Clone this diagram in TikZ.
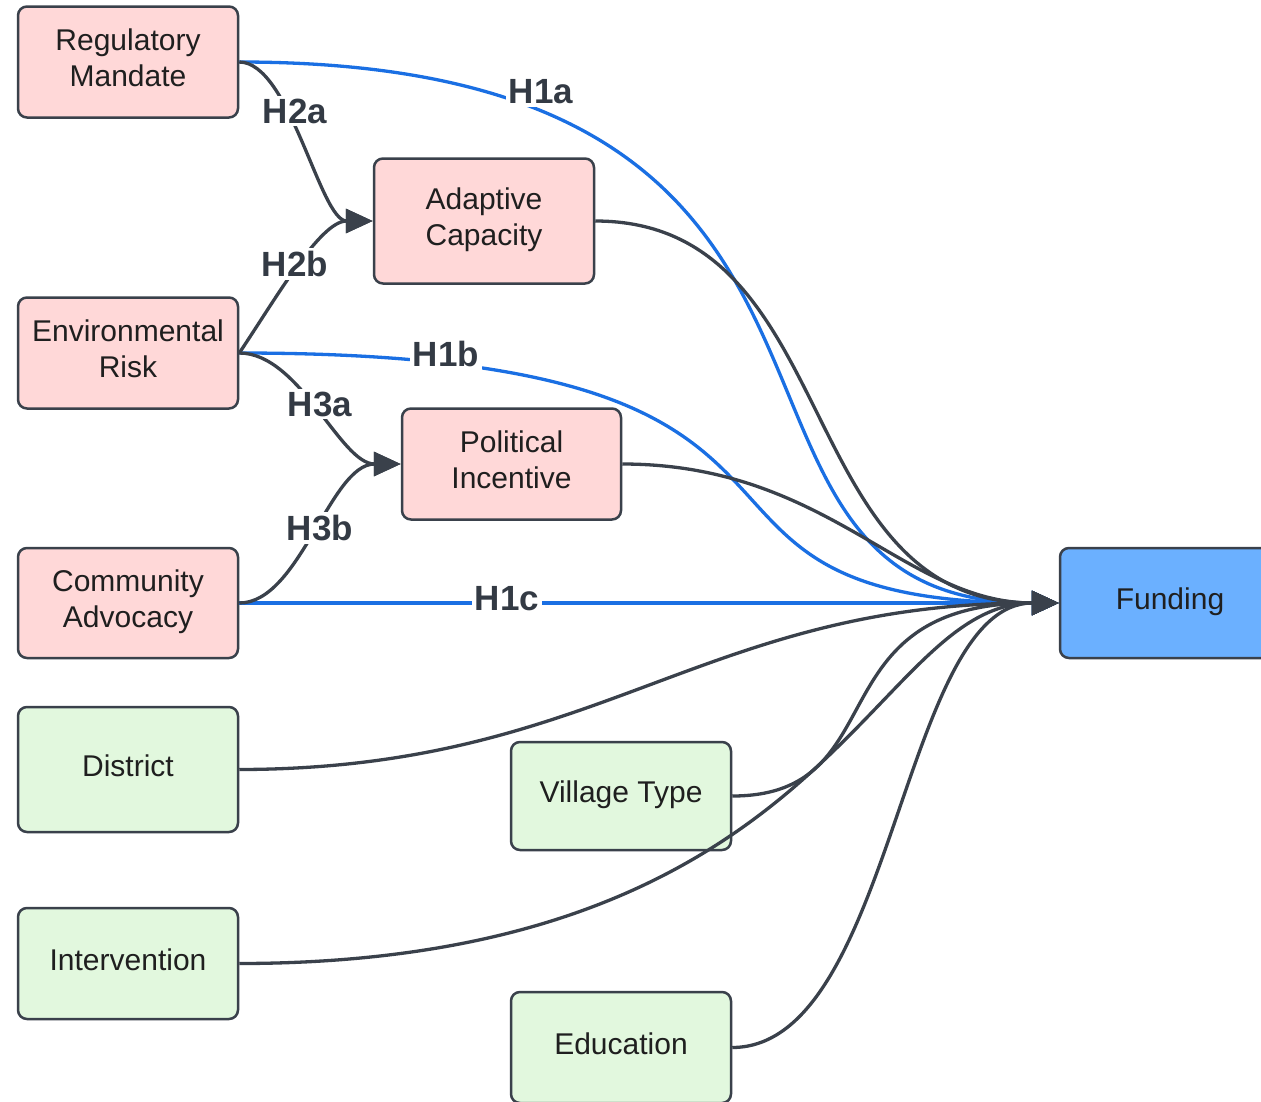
\documentclass[tikz,border=0pt]{standalone}
\usepackage{fontspec}
\setmainfont{Liberation Sans}
\usetikzlibrary{arrows.meta}
\definecolor{pinkfill}{HTML}{FFD8D8}
\definecolor{greenfill}{HTML}{E2F8DE}
\definecolor{bluefill}{HTML}{6BB0FF}
\definecolor{edgedark}{HTML}{3A414B}
\definecolor{edgeblue}{HTML}{1A6FE3}
\definecolor{labelgray}{HTML}{333A44}
\newcommand{\boxdepthfix}{\rule[-8pt]{0pt}{8pt}}
\begin{document}
\begin{tikzpicture}[x=1pt,y=-1pt,
  box/.style={draw=edgedark, line width=2.5pt, rounded corners=9pt, align=center,
    font=\fontsize{30}{36}\selectfont, text=black!88, inner sep=0pt, minimum width=220pt,
    execute at end node=\boxdepthfix},
  pinkbox/.style={box, fill=pinkfill},
  greenbox/.style={box, fill=greenfill},
  bluebox/.style={box, fill=bluefill},
  tipstyle/.style={-{Triangle[length=27pt,width=24pt]}},
  darkedge/.style={draw=edgedark, line width=3.3pt, tipstyle},
  blueedge/.style={draw=edgeblue, line width=3.3pt, tipstyle},
  lbl/.style={fill=white, text=labelgray, font=\fontsize{35}{40}\selectfont\bfseries, inner sep=3pt}
]
\useasboundingbox (0,0) rectangle (1261,1101);
\clip (0,0) rectangle (1261,1101);
\fill[white] (0,0) rectangle (1261,1101);

% nodes
\node[pinkbox, minimum height=111pt] (rm) at (128,62) {Regulatory\\Mandate};
\node[pinkbox, minimum height=125pt] (ac) at (484,221) {Adaptive\\Capacity};
\node[pinkbox, minimum height=111pt] (er) at (128,353) {Environmental\\Risk};
\node[pinkbox, minimum height=111pt, minimum width=219pt] (pi) at (511.5,464) {Political\\Incentive};
\node[pinkbox, minimum height=110pt] (ca) at (128,603) {Community\\Advocacy};
\node[bluebox, minimum height=110pt] (fu) at (1170,603) {Funding};
\node[greenbox, minimum height=125pt] (di) at (128,769.5) {District};
\node[greenbox, minimum height=108pt] (vt) at (621,796) {Village Type};
\node[greenbox, minimum height=111pt] (iv) at (128,963.5) {Intervention};
\node[greenbox, minimum height=111pt] (ed) at (621,1047.5) {Education};

% blue hypothesis edges
\draw[blueedge] (rm.east) .. controls (949,62) and (658,603) .. (fu.west);
\draw[blueedge] (er.east) .. controls (918,353) and (609,603) .. (fu.west);
\draw[blueedge] (ca.east) -- (fu.west);

% dark edges to Funding
\draw[darkedge] (ac.east) .. controls (846,221) and (789,603) .. (fu.west);
\draw[darkedge] (pi.east) .. controls (828,464) and (905,603) .. (fu.west);
\draw[darkedge] (di.east) .. controls (600,769) and (700,603) .. (fu.west);
\draw[darkedge] (vt.east) .. controls (898,796) and (812,603) .. (fu.west);
\draw[darkedge] (iv.east) .. controls (836,963) and (870,603) .. (fu.west);
\draw[darkedge] (ed.east) .. controls (894,1047) and (901,603) .. (fu.west);

% mediator edges
\draw[darkedge] (rm.east) .. controls (290,62) and (320,221) .. (ac.west);
\draw[darkedge] (er.east) .. controls (275,300) and (320,221) .. (ac.west);
\draw[darkedge] (er.east) .. controls (300,353) and (340,464) .. (pi.west);
\draw[darkedge] (ca.east) .. controls (300,603) and (330,464) .. (pi.west);

% labels
\node[lbl] (h1a) at (541,92) {H1a};
\node[lbl] (h2a) at (295,111) {H2a};
\node[lbl] (h2b) at (295,264) {H2b};
\node[lbl] (h1b) at (446,354) {H1b};
\node[lbl] (h3a) at (320,404) {H3a};
\node[lbl] (h3b) at (320,528) {H3b};
\node[lbl] (h1c) at (507,599) {H1c};
\end{tikzpicture}
\end{document}
